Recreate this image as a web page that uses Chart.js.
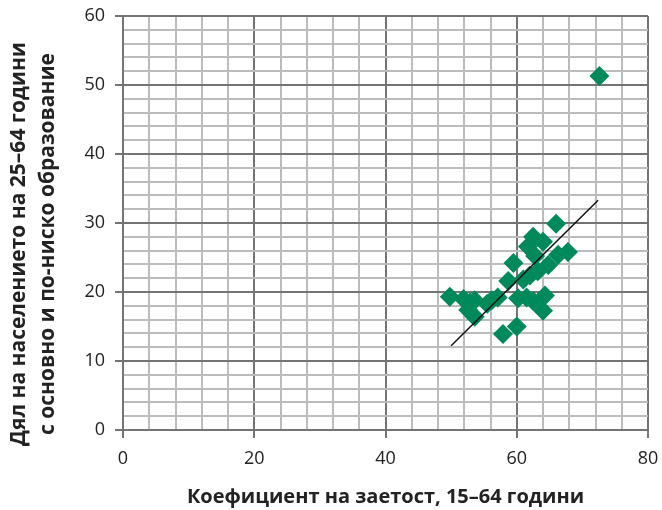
<!DOCTYPE html>
<html>
<head>
<meta charset="utf-8">
<script src="https://cdn.jsdelivr.net/npm/chart.js@4"></script>
<style>
  html, body { margin: 0; padding: 0; background: #fff; }
  #wrap { width: 662px; height: 510px; }
</style>
</head>
<body>
<div id="wrap"><canvas id="chart_scatter"></canvas></div>
<script>
// employment rate (x) vs share of low-educated population (y)
const employmentRate = [72.6, 66.0, 67.8, 66.3, 64.0, 62.5, 61.7, 62.8, 59.5, 64.8,
    63.2, 62.0, 58.7, 61.0, 49.8, 51.9, 52.9, 53.6, 52.6, 53.6,
    56.2, 57.1, 60.2, 61.5, 62.5, 64.3, 64.0, 57.9, 60.0, 55.5];
const lowEducShare = [51.3, 29.9, 25.8, 25.4, 27.3, 28.0, 26.6, 25.2, 24.2, 23.9,
    23.0, 22.4, 21.6, 21.8, 19.3, 19.0, 18.5, 18.8, 17.4, 16.4,
    18.8, 19.2, 19.1, 19.2, 18.7, 19.5, 17.3, 13.9, 15.0, 18.3];
const trendX = [50.0, 72.4];
const trendY = [12.2, 33.3];

const xTitle = 'Коефициент на заетост, 15–64 години';
const yTitle = ['Дял на населението на 25–64 години', 'с основно и по-ниско образование'];

const green = '#008a5c';
const minorGrid = '#bcbcbc';
const majorGrid = '#747474';
const tickFont = { family: 'Open Sans', size: 18 };

function isMajor(value, step) {
    return Math.abs(value % step) < 1e-6;
}

new Chart(document.getElementById('chart_scatter'), {
    type: 'scatter',
    data: {
        datasets: [
            {
                type: 'line',
                order: 0,
                data: trendX.map((x, i) => ({ x: x, y: trendY[i] })),
                borderColor: '#111',
                borderWidth: 1.5,
                pointRadius: 0,
                fill: false
            },
            {
                order: 1,
                data: employmentRate.map((x, i) => ({ x: x, y: lowEducShare[i] })),
                pointStyle: 'rectRot',
                pointRadius: 10,
                backgroundColor: green,
                borderColor: green,
                borderWidth: 0
            }
        ]
    },
    options: {
        responsive: true,
        maintainAspectRatio: false,
        animation: false,
        layout: { padding: { left: 0, right: 14, top: 16, bottom: 0 } },
        plugins: {
            legend: { display: false },
            tooltip: { enabled: false }
        },
        scales: {
            x: {
                type: 'linear',
                min: 0,
                max: 80,
                afterFit: function (scale) {
                    scale.height = 80;
                    scale.paddingLeft = 0;
                    scale.paddingRight = 0;
                },
                border: { color: majorGrid, width: 2 },
                grid: {
                    lineWidth: 2,
                    tickLength: 8,
                    color: ctx => isMajor(ctx.tick.value, 20) ? majorGrid : minorGrid,
                    tickColor: ctx => isMajor(ctx.tick.value, 20) ? majorGrid : 'rgba(0,0,0,0)'
                },
                ticks: {
                    stepSize: 4,
                    autoSkip: false,
                    maxRotation: 0,
                    padding: 10,
                    color: '#222',
                    font: tickFont,
                    callback: v => isMajor(v, 20) ? v : ''
                },
                title: {
                    display: true,
                    text: xTitle,
                    color: '#222',
                    font: { family: 'Open Sans', size: 20, weight: 'bold' },
                    padding: { top: 0, bottom: 1 }
                }
            },
            y: {
                type: 'linear',
                min: 0,
                max: 60,
                afterFit: function (scale) {
                    scale.width = 123;
                    scale.paddingTop = 0;
                    scale.paddingBottom = 0;
                    // the reference title sits a little below the axis centre
                    if (!scale.shiftedTitle) {
                        const drawTitle = scale.drawTitle;
                        scale.drawTitle = function () {
                            this.ctx.save();
                            this.ctx.translate(0, 21);
                            drawTitle.call(this);
                            this.ctx.restore();
                        };
                        scale.shiftedTitle = true;
                    }
                },
                border: { color: majorGrid, width: 2 },
                grid: {
                    lineWidth: 2,
                    tickLength: 8,
                    color: ctx => isMajor(ctx.tick.value, 10) ? majorGrid : minorGrid,
                    tickColor: ctx => isMajor(ctx.tick.value, 10) ? majorGrid : 'rgba(0,0,0,0)'
                },
                ticks: {
                    stepSize: 2,
                    autoSkip: false,
                    padding: 10,
                    color: '#222',
                    font: tickFont,
                    callback: v => isMajor(v, 10) ? v : ''
                },
                title: {
                    display: true,
                    text: yTitle,
                    color: '#222',
                    font: { family: 'Open Sans', size: 21, weight: 'bold', lineHeight: 1.4 },
                    padding: { top: 4, bottom: 0 }
                }
            }
        }
    }
});
</script>
</body>
</html>
